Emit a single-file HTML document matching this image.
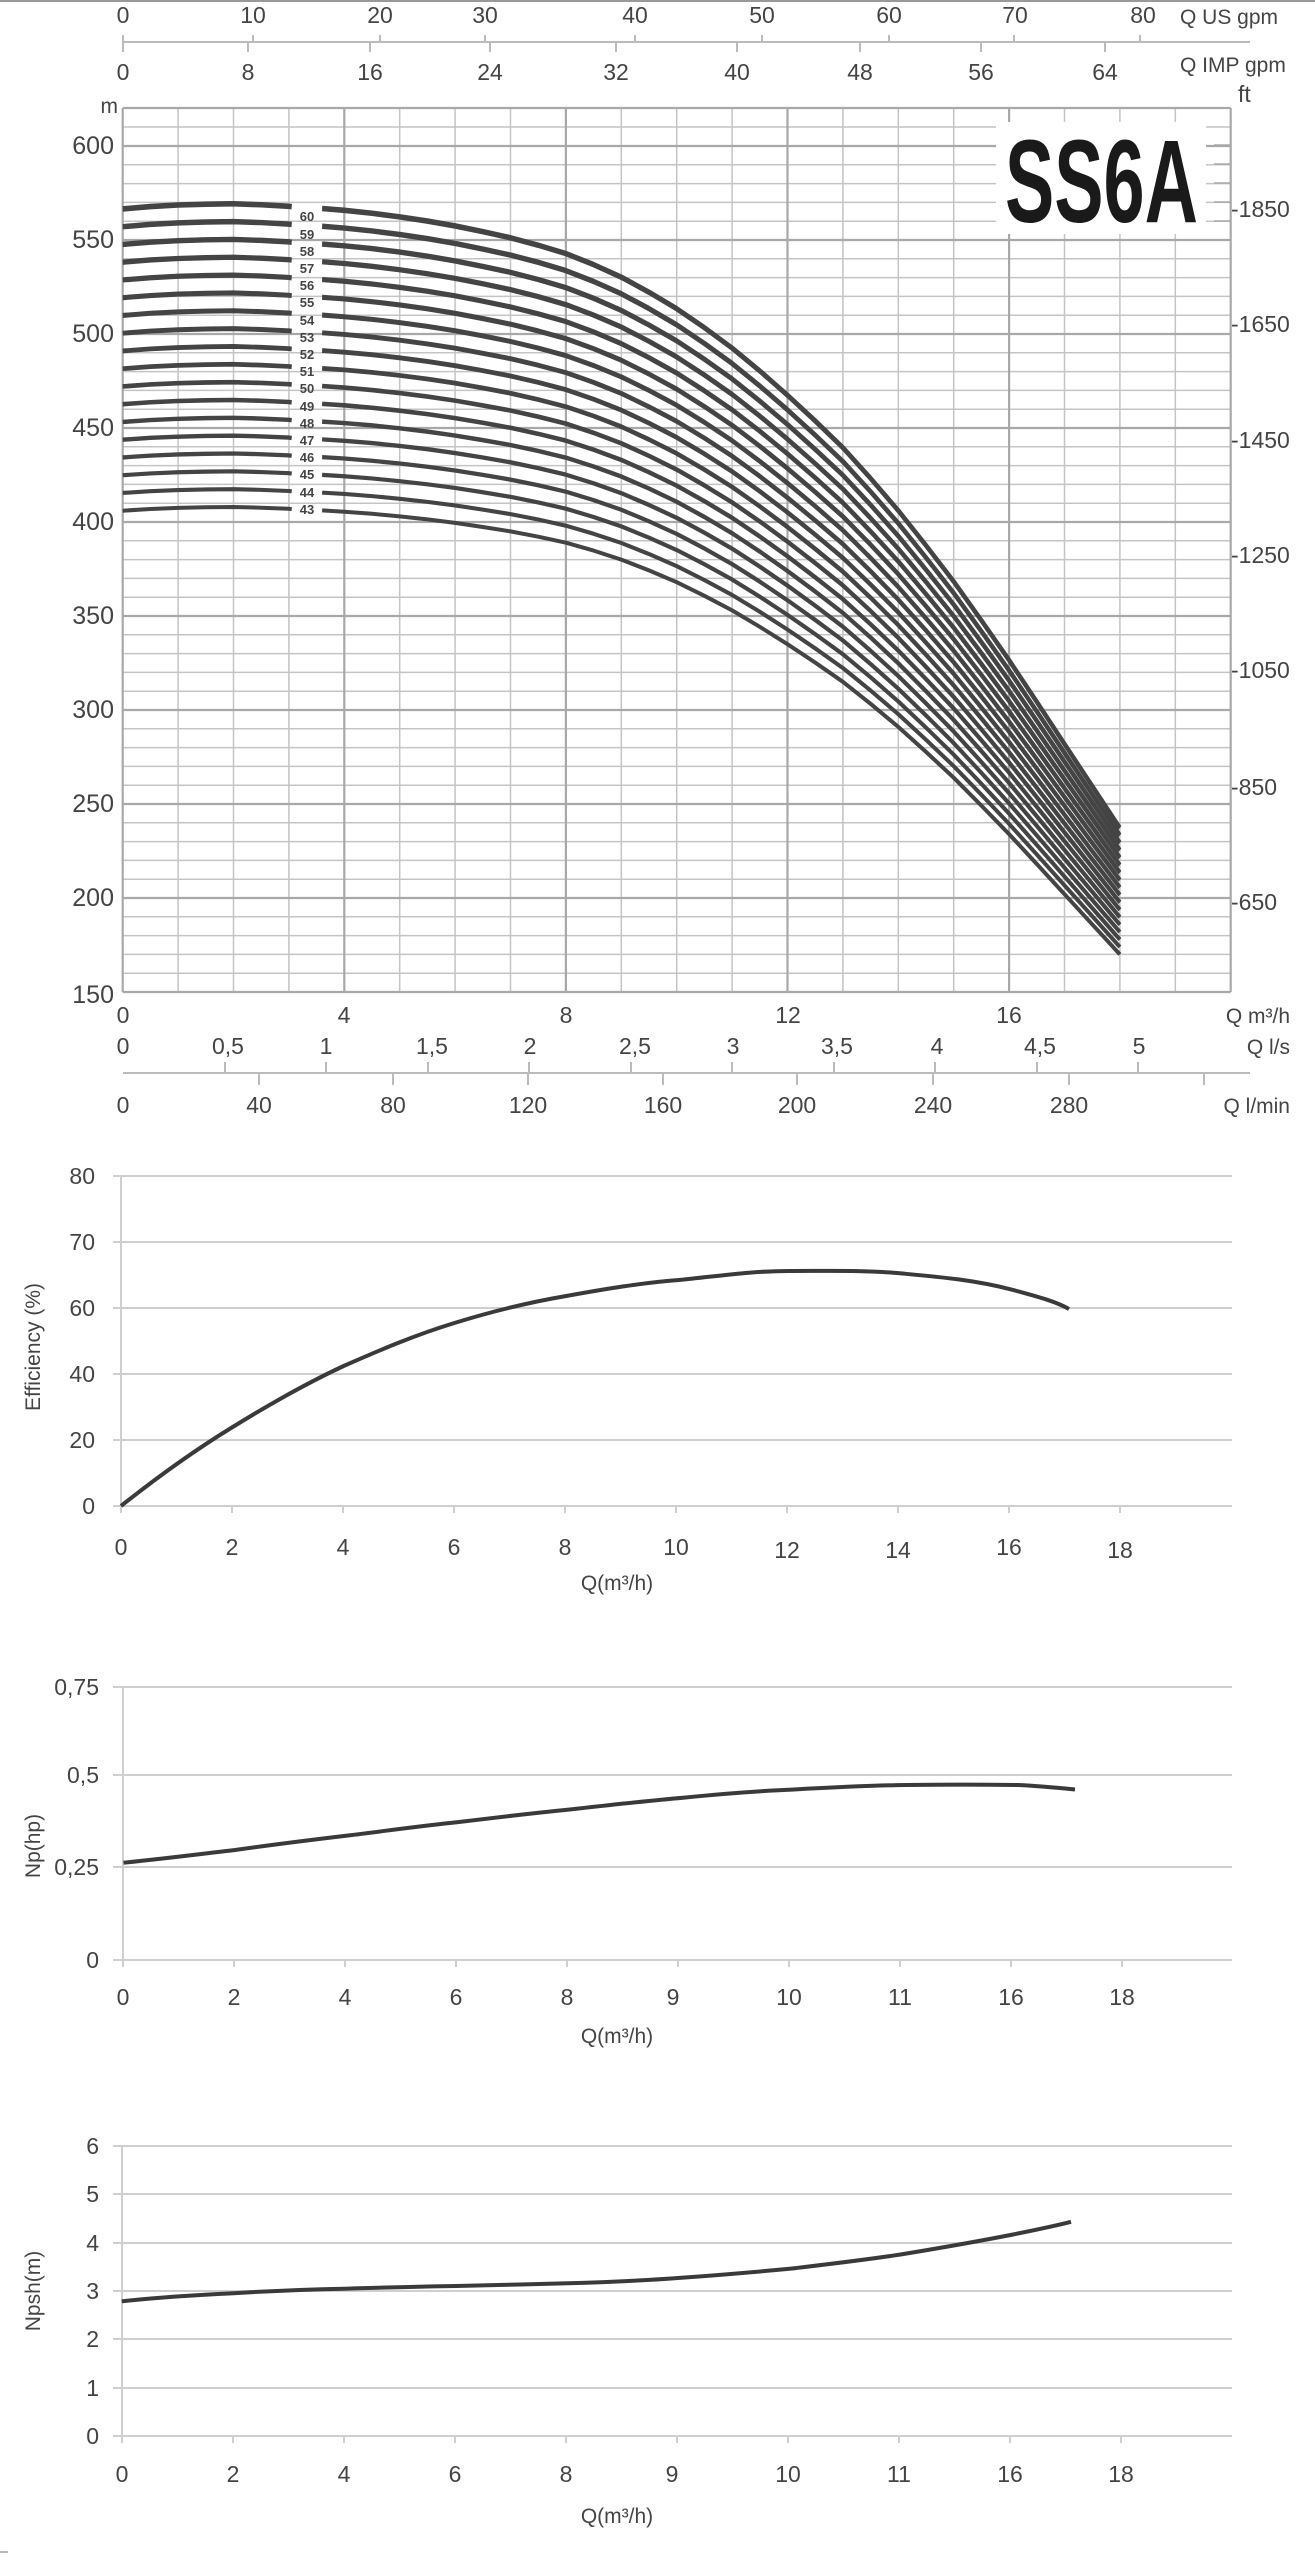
<!DOCTYPE html>
<html><head><meta charset="utf-8"><style>
html,body{margin:0;padding:0;background:#fff;}
svg{display:block;}
text{font-family:"Liberation Sans Narrow","Liberation Sans",sans-serif;fill:#444;}
.c{fill:none;stroke:#444;stroke-width:4;stroke-linejoin:round;vector-effect:non-scaling-stroke;}
</style></head><body>
<svg width="1315" height="2560" viewBox="0 0 1315 2560" xmlns="http://www.w3.org/2000/svg">
<line x1="0" y1="1" x2="1315" y2="1" stroke="#999" stroke-width="2"/>
<g font-size="23" text-anchor="middle">
<line x1="123" y1="42" x2="1250" y2="42" stroke="#bbb" stroke-width="2"/>
<g stroke="#bbb" stroke-width="2">
<line x1="123" y1="35" x2="123" y2="42"/><line x1="253" y1="35" x2="253" y2="42"/><line x1="380" y1="35" x2="380" y2="42"/><line x1="485" y1="35" x2="485" y2="42"/><line x1="635" y1="35" x2="635" y2="42"/><line x1="762" y1="35" x2="762" y2="42"/><line x1="889" y1="35" x2="889" y2="42"/><line x1="1014" y1="35" x2="1014" y2="42"/><line x1="1140" y1="35" x2="1140" y2="42"/>
<line x1="123" y1="42" x2="123" y2="52"/><line x1="248" y1="42" x2="248" y2="52"/><line x1="370" y1="42" x2="370" y2="52"/><line x1="490" y1="42" x2="490" y2="52"/><line x1="616" y1="42" x2="616" y2="52"/><line x1="737" y1="42" x2="737" y2="52"/><line x1="860" y1="42" x2="860" y2="52"/><line x1="981" y1="42" x2="981" y2="52"/><line x1="1105" y1="42" x2="1105" y2="52"/>
</g>
<text x="123" y="23">0</text><text x="253" y="23">10</text><text x="380" y="23">20</text><text x="485" y="23">30</text><text x="635" y="23">40</text><text x="762" y="23">50</text><text x="889" y="23">60</text><text x="1015" y="23">70</text><text x="1143" y="23">80</text>
<text x="123" y="80">0</text><text x="248" y="80">8</text><text x="370" y="80">16</text><text x="490" y="80">24</text><text x="616" y="80">32</text><text x="737" y="80">40</text><text x="860" y="80">48</text><text x="981" y="80">56</text><text x="1105" y="80">64</text>
<text x="1180" y="24" text-anchor="start" font-size="21">Q US gpm</text>
<text x="1180" y="72" text-anchor="start" font-size="21">Q IMP gpm</text>
</g>
<g stroke="#c4c4c4" stroke-width="1.5">
<line x1="122.7" y1="127" x2="1230.7" y2="127"/><line x1="122.7" y1="164.8" x2="1230.7" y2="164.8"/><line x1="122.7" y1="183.6" x2="1230.7" y2="183.6"/><line x1="122.7" y1="202.4" x2="1230.7" y2="202.4"/><line x1="122.7" y1="221.2" x2="1230.7" y2="221.2"/>
<line x1="122.7" y1="258.8" x2="1230.7" y2="258.8"/><line x1="122.7" y1="277.6" x2="1230.7" y2="277.6"/><line x1="122.7" y1="296.4" x2="1230.7" y2="296.4"/><line x1="122.7" y1="315.2" x2="1230.7" y2="315.2"/>
<line x1="122.7" y1="352.8" x2="1230.7" y2="352.8"/><line x1="122.7" y1="371.6" x2="1230.7" y2="371.6"/><line x1="122.7" y1="390.4" x2="1230.7" y2="390.4"/><line x1="122.7" y1="409.2" x2="1230.7" y2="409.2"/>
<line x1="122.7" y1="446.8" x2="1230.7" y2="446.8"/><line x1="122.7" y1="465.6" x2="1230.7" y2="465.6"/><line x1="122.7" y1="484.4" x2="1230.7" y2="484.4"/><line x1="122.7" y1="503.2" x2="1230.7" y2="503.2"/>
<line x1="122.7" y1="540.8" x2="1230.7" y2="540.8"/><line x1="122.7" y1="559.6" x2="1230.7" y2="559.6"/><line x1="122.7" y1="578.4" x2="1230.7" y2="578.4"/><line x1="122.7" y1="597.2" x2="1230.7" y2="597.2"/>
<line x1="122.7" y1="634.8" x2="1230.7" y2="634.8"/><line x1="122.7" y1="653.6" x2="1230.7" y2="653.6"/><line x1="122.7" y1="672.4" x2="1230.7" y2="672.4"/><line x1="122.7" y1="691.2" x2="1230.7" y2="691.2"/>
<line x1="122.7" y1="728.8" x2="1230.7" y2="728.8"/><line x1="122.7" y1="747.6" x2="1230.7" y2="747.6"/><line x1="122.7" y1="766.4" x2="1230.7" y2="766.4"/><line x1="122.7" y1="785.2" x2="1230.7" y2="785.2"/>
<line x1="122.7" y1="822.8" x2="1230.7" y2="822.8"/><line x1="122.7" y1="841.6" x2="1230.7" y2="841.6"/><line x1="122.7" y1="860.4" x2="1230.7" y2="860.4"/><line x1="122.7" y1="879.2" x2="1230.7" y2="879.2"/>
<line x1="122.7" y1="916.8" x2="1230.7" y2="916.8"/><line x1="122.7" y1="935.6" x2="1230.7" y2="935.6"/><line x1="122.7" y1="954.4" x2="1230.7" y2="954.4"/><line x1="122.7" y1="973.2" x2="1230.7" y2="973.2"/>
<line x1="178.1" y1="108" x2="178.1" y2="992"/><line x1="233.5" y1="108" x2="233.5" y2="992"/><line x1="288.9" y1="108" x2="288.9" y2="992"/>
<line x1="399.7" y1="108" x2="399.7" y2="992"/><line x1="455.1" y1="108" x2="455.1" y2="992"/><line x1="510.5" y1="108" x2="510.5" y2="992"/>
<line x1="621.3" y1="108" x2="621.3" y2="992"/><line x1="676.7" y1="108" x2="676.7" y2="992"/><line x1="732.1" y1="108" x2="732.1" y2="992"/>
<line x1="842.9" y1="108" x2="842.9" y2="992"/><line x1="898.3" y1="108" x2="898.3" y2="992"/><line x1="953.7" y1="108" x2="953.7" y2="992"/>
<line x1="1064.5" y1="108" x2="1064.5" y2="992"/><line x1="1119.9" y1="108" x2="1119.9" y2="992"/><line x1="1175.3" y1="108" x2="1175.3" y2="992"/>
</g>
<g stroke="#a8a8a8" stroke-width="2.2">
<line x1="122.7" y1="108" x2="1230.7" y2="108"/>
<line x1="122.7" y1="146" x2="1230.7" y2="146"/><line x1="122.7" y1="240" x2="1230.7" y2="240"/><line x1="122.7" y1="334" x2="1230.7" y2="334"/><line x1="122.7" y1="428" x2="1230.7" y2="428"/><line x1="122.7" y1="522" x2="1230.7" y2="522"/><line x1="122.7" y1="616" x2="1230.7" y2="616"/><line x1="122.7" y1="710" x2="1230.7" y2="710"/><line x1="122.7" y1="804" x2="1230.7" y2="804"/><line x1="122.7" y1="898" x2="1230.7" y2="898"/><line x1="122.7" y1="992" x2="1230.7" y2="992"/>
<line x1="122.7" y1="108" x2="122.7" y2="992"/><line x1="344.3" y1="108" x2="344.3" y2="992"/><line x1="565.9" y1="108" x2="565.9" y2="992"/><line x1="787.5" y1="108" x2="787.5" y2="992"/><line x1="1009.1" y1="108" x2="1009.1" y2="992"/><line x1="1230.7" y1="108" x2="1230.7" y2="992"/>
</g>
<rect x="996" y="122" width="210" height="112" fill="#fff"/>
<text x="1005" y="222" font-size="118" font-weight="bold" textLength="193" lengthAdjust="spacingAndGlyphs" style="fill:#1a1a1a">SS6A</text>
<g stroke="#a8a8a8" stroke-width="1.5">
<line x1="1214" y1="145" x2="1230" y2="145"/><line x1="1214" y1="164" x2="1230" y2="164"/><line x1="1214" y1="183" x2="1230" y2="183"/><line x1="1214" y1="202" x2="1230" y2="202"/><line x1="1214" y1="221" x2="1230" y2="221"/>
</g>
<g font-size="23">
<text x="1238" y="102">ft</text>
<text x="1231" y="217">-1850</text><text x="1231" y="332">-1650</text><text x="1231" y="448">-1450</text><text x="1231" y="563">-1250</text><text x="1231" y="678">-1050</text><text x="1231" y="795">-850</text><text x="1231" y="910">-650</text>
</g>
<g font-size="25" text-anchor="end">
<text x="118" y="113" font-size="21">m</text>
<text x="114" y="154">600</text><text x="114" y="248">550</text><text x="114" y="342">500</text><text x="114" y="436">450</text><text x="114" y="530">400</text><text x="114" y="624">350</text><text x="114" y="718">300</text><text x="114" y="812">250</text><text x="114" y="906">200</text><text x="114" y="1003">150</text>
</g>
<defs>
<path id="cA" d="M122.7,-763.3 L150.4,-765 L178.1,-766.1 L205.8,-766.7 L233.5,-767 L261.2,-766.3 L288.9,-765.2 L291.7,-764.9 M322.1,-763.6 L344.3,-762.3 L372,-760.2 L399.7,-757.6 L427.4,-754.6 L455.1,-751.1 L482.8,-747 L510.5,-742.6 L538.2,-737.3 L565.9,-731.3 L593.6,-723.4 L621.3,-714.4 L649,-703.6 L676.7,-691.8 L704.4,-678.2 L732.1,-663.6 L759.8,-647.2 L787.5,-629.8 L815.2,-611.4 L842.9,-592.2 L870.6,-570.2 L898.3,-547.1 L926,-522.1 L953.7,-496.3 L981.4,-468.4 L1009.1,-439.9 L1036.8,-410 L1064.5,-379.8 L1092.2,-349.7 L1119.9,-319.6"/>
</defs>
<g transform="translate(0,1274)">
<use href="#cA" class="c" transform="scale(1,1)"/>
<use href="#cA" class="c" transform="scale(1,1.02326)"/>
<use href="#cA" class="c" transform="scale(1,1.04651)"/>
<use href="#cA" class="c" transform="scale(1,1.06977)"/>
<use href="#cA" class="c" transform="scale(1,1.09302)"/>
<use href="#cA" class="c" transform="scale(1,1.11628)"/>
<use href="#cA" class="c" transform="scale(1,1.13953)"/>
<use href="#cA" class="c" transform="scale(1,1.16279)"/>
<use href="#cA" class="c" transform="scale(1,1.18605)"/>
<use href="#cA" class="c" transform="scale(1,1.20930)"/>
<use href="#cA" class="c" transform="scale(1,1.23256)"/>
<use href="#cA" class="c" transform="scale(1,1.25581)"/>
<use href="#cA" class="c" transform="scale(1,1.27907)"/>
<use href="#cA" class="c" transform="scale(1,1.30233)"/>
<use href="#cA" class="c" transform="scale(1,1.32558)"/>
<use href="#cA" class="c" transform="scale(1,1.34884)"/>
<use href="#cA" class="c" transform="scale(1,1.37209)"/>
<use href="#cA" class="c" transform="scale(1,1.39535)"/>
</g>
<g font-size="13" text-anchor="middle" font-weight="bold">
<text x="307" y="514">43</text><text x="307" y="497">44</text><text x="307" y="479">45</text><text x="307" y="462">46</text><text x="307" y="445">47</text><text x="307" y="428">48</text><text x="307" y="411">49</text><text x="307" y="393">50</text><text x="307" y="376">51</text><text x="307" y="359">52</text><text x="307" y="342">53</text><text x="307" y="325">54</text><text x="307" y="307">55</text><text x="307" y="290">56</text><text x="307" y="273">57</text><text x="307" y="256">58</text><text x="307" y="239">59</text><text x="307" y="221">60</text>
</g>
<g font-size="23" text-anchor="middle">
<text x="123" y="1023">0</text><text x="344" y="1023">4</text><text x="566" y="1023">8</text><text x="788" y="1023">12</text><text x="1009" y="1023">16</text>
<text x="123" y="1054">0</text><text x="228" y="1054">0,5</text><text x="326" y="1054">1</text><text x="432" y="1054">1,5</text><text x="530" y="1054">2</text><text x="635" y="1054">2,5</text><text x="733" y="1054">3</text><text x="837" y="1054">3,5</text><text x="937" y="1054">4</text><text x="1040" y="1054">4,5</text><text x="1139" y="1054">5</text>
<text x="123" y="1113">0</text><text x="259" y="1113">40</text><text x="393" y="1113">80</text><text x="528" y="1113">120</text><text x="663" y="1113">160</text><text x="797" y="1113">200</text><text x="933" y="1113">240</text><text x="1069" y="1113">280</text>
<text x="1290" y="1023" text-anchor="end" font-size="21">Q m³/h</text>
<text x="1290" y="1054" text-anchor="end" font-size="21">Q l/s</text>
<text x="1290" y="1113" text-anchor="end" font-size="21">Q l/min</text>
</g>
<g stroke="#bbb" stroke-width="2">
<line x1="123" y1="1073" x2="1250" y2="1073"/>
<line x1="225" y1="1062" x2="225" y2="1073"/><line x1="326" y1="1062" x2="326" y2="1073"/><line x1="428" y1="1062" x2="428" y2="1073"/><line x1="529" y1="1062" x2="529" y2="1073"/><line x1="631" y1="1062" x2="631" y2="1073"/><line x1="732" y1="1062" x2="732" y2="1073"/><line x1="834" y1="1062" x2="834" y2="1073"/><line x1="935" y1="1062" x2="935" y2="1073"/><line x1="1037" y1="1062" x2="1037" y2="1073"/><line x1="1138" y1="1062" x2="1138" y2="1073"/>
<line x1="259" y1="1073" x2="259" y2="1085"/><line x1="393" y1="1073" x2="393" y2="1085"/><line x1="528" y1="1073" x2="528" y2="1085"/><line x1="663" y1="1073" x2="663" y2="1085"/><line x1="797" y1="1073" x2="797" y2="1085"/><line x1="933" y1="1073" x2="933" y2="1085"/><line x1="1069" y1="1073" x2="1069" y2="1085"/><line x1="1204" y1="1073" x2="1204" y2="1085"/>
</g>

<!-- Efficiency -->
<g stroke="#cfcfcf" stroke-width="2">
<line x1="113" y1="1176" x2="1232" y2="1176"/><line x1="113" y1="1242" x2="1232" y2="1242"/><line x1="113" y1="1308" x2="1232" y2="1308"/><line x1="113" y1="1374" x2="1232" y2="1374"/><line x1="113" y1="1440" x2="1232" y2="1440"/><line x1="113" y1="1506" x2="1232" y2="1506"/>
<line x1="121" y1="1176" x2="121" y2="1506"/>
<line x1="121" y1="1506" x2="121" y2="1513"/><line x1="232" y1="1506" x2="232" y2="1513"/><line x1="343" y1="1506" x2="343" y2="1513"/><line x1="454" y1="1506" x2="454" y2="1513"/><line x1="565" y1="1506" x2="565" y2="1513"/><line x1="676" y1="1506" x2="676" y2="1513"/><line x1="787" y1="1506" x2="787" y2="1513"/><line x1="898" y1="1506" x2="898" y2="1513"/><line x1="1009" y1="1506" x2="1009" y2="1513"/><line x1="1120" y1="1506" x2="1120" y2="1513"/>
</g>
<g font-size="23" text-anchor="end">
<text x="95" y="1184">80</text><text x="95" y="1250">70</text><text x="95" y="1316">60</text><text x="95" y="1382">40</text><text x="95" y="1448">20</text><text x="95" y="1514">0</text>
</g>
<g font-size="23" text-anchor="middle">
<text x="121" y="1555">0</text><text x="232" y="1555">2</text><text x="343" y="1555">4</text><text x="454" y="1555">6</text><text x="565" y="1555">8</text><text x="676" y="1555">10</text><text x="787" y="1558">12</text><text x="898" y="1558">14</text><text x="1009" y="1555">16</text><text x="1120" y="1558">18</text>
<text x="617" y="1590" font-size="21">Q(m³/h)</text>
<text transform="translate(40,1347) rotate(-90)" font-size="21">Efficiency (%)</text>
</g>
<path d="M121,1506 C160,1475 200,1447 232.7,1427 C270,1404 305,1384 343.6,1366 C380,1350 415,1335 454.4,1323 C490,1312 525,1303 566.2,1296 C605,1289 640,1283 678.7,1280 C720,1276 750,1271 789.6,1271 C830,1271 865,1270 901.3,1273.4 C940,1277 975,1280 1012,1289.7 C1035,1296 1055,1301 1069,1309" fill="none" stroke="#3a3a3a" stroke-width="4"/>

<!-- Np -->
<g stroke="#cfcfcf" stroke-width="2">
<line x1="113" y1="1687" x2="1232" y2="1687"/><line x1="113" y1="1775" x2="1232" y2="1775"/><line x1="113" y1="1867" x2="1232" y2="1867"/><line x1="113" y1="1960" x2="1232" y2="1960"/>
<line x1="123" y1="1687" x2="123" y2="1960"/>
<line x1="123" y1="1960" x2="123" y2="1967"/><line x1="234" y1="1960" x2="234" y2="1967"/><line x1="345" y1="1960" x2="345" y2="1967"/><line x1="456" y1="1960" x2="456" y2="1967"/><line x1="567" y1="1960" x2="567" y2="1967"/><line x1="678" y1="1960" x2="678" y2="1967"/><line x1="789" y1="1960" x2="789" y2="1967"/><line x1="900" y1="1960" x2="900" y2="1967"/><line x1="1011" y1="1960" x2="1011" y2="1967"/><line x1="1122" y1="1960" x2="1122" y2="1967"/>
</g>
<g font-size="23" text-anchor="end">
<text x="99" y="1695">0,75</text><text x="99" y="1783">0,5</text><text x="99" y="1875">0,25</text><text x="99" y="1968">0</text>
</g>
<g font-size="23" text-anchor="middle">
<text x="123" y="2005">0</text><text x="234" y="2005">2</text><text x="345" y="2005">4</text><text x="456" y="2005">6</text><text x="567" y="2005">8</text><text x="673" y="2005">9</text><text x="789" y="2005">10</text><text x="900" y="2005">11</text><text x="1011" y="2005">16</text><text x="1122" y="2005">18</text>
<text x="617" y="2043" font-size="21">Q(m³/h)</text>
<text transform="translate(40,1846) rotate(-90)" font-size="21">Np(hp)</text>
</g>
<path d="M123.5,1862.7 C170,1858 200,1854 235,1850 C270,1845 310,1840 347,1835.6 C385,1831 420,1826 459,1822 C500,1817 535,1813 571,1809.4 C610,1805 645,1801 683,1797.7 C720,1794 755,1791 794,1789.5 C830,1787.5 870,1785.5 905.5,1785 C945,1784.5 980,1784.5 1018,1785 C1040,1786 1060,1788 1075,1789.5" fill="none" stroke="#3a3a3a" stroke-width="4"/>

<!-- NPSH -->
<g stroke="#cfcfcf" stroke-width="2">
<line x1="113" y1="2146" x2="1232" y2="2146"/><line x1="113" y1="2194" x2="1232" y2="2194"/><line x1="113" y1="2243" x2="1232" y2="2243"/><line x1="113" y1="2291" x2="1232" y2="2291"/><line x1="113" y1="2339" x2="1232" y2="2339"/><line x1="113" y1="2388" x2="1232" y2="2388"/><line x1="113" y1="2436" x2="1232" y2="2436"/>
<line x1="122" y1="2146" x2="122" y2="2436"/>
<line x1="122" y1="2436" x2="122" y2="2443"/><line x1="233" y1="2436" x2="233" y2="2443"/><line x1="344" y1="2436" x2="344" y2="2443"/><line x1="455" y1="2436" x2="455" y2="2443"/><line x1="566" y1="2436" x2="566" y2="2443"/><line x1="677" y1="2436" x2="677" y2="2443"/><line x1="788" y1="2436" x2="788" y2="2443"/><line x1="899" y1="2436" x2="899" y2="2443"/><line x1="1010" y1="2436" x2="1010" y2="2443"/><line x1="1121" y1="2436" x2="1121" y2="2443"/>
</g>
<g font-size="23" text-anchor="end">
<text x="99" y="2154">6</text><text x="99" y="2202">5</text><text x="99" y="2251">4</text><text x="99" y="2299">3</text><text x="99" y="2347">2</text><text x="99" y="2396">1</text><text x="99" y="2444">0</text>
</g>
<g font-size="23" text-anchor="middle">
<text x="122" y="2482">0</text><text x="233" y="2482">2</text><text x="344" y="2482">4</text><text x="455" y="2482">6</text><text x="566" y="2482">8</text><text x="672" y="2482">9</text><text x="788" y="2482">10</text><text x="899" y="2482">11</text><text x="1010" y="2482">16</text><text x="1121" y="2482">18</text>
<text x="617" y="2523" font-size="21">Q(m³/h)</text>
<text transform="translate(40,2291) rotate(-90)" font-size="21">Npsh(m)</text>
</g>
<path d="M121.8,2301.3 C160,2297 195,2295 233.5,2293.2 C270,2291 305,2289.5 344.4,2288.7 C385,2287.5 420,2286.5 456,2286 C495,2285 530,2284.3 568,2283.3 C610,2282 645,2280.5 679.6,2277.9 C720,2275 755,2272 789.6,2268.8 C830,2264 865,2260 901.3,2254.4 C940,2248 975,2242 1013,2234.5 C1035,2230 1055,2226 1071,2221.8" fill="none" stroke="#3a3a3a" stroke-width="4"/>
<line x1="0" y1="2552" x2="8" y2="2552" stroke="#bbb" stroke-width="2"/>
</svg>
</body></html>
